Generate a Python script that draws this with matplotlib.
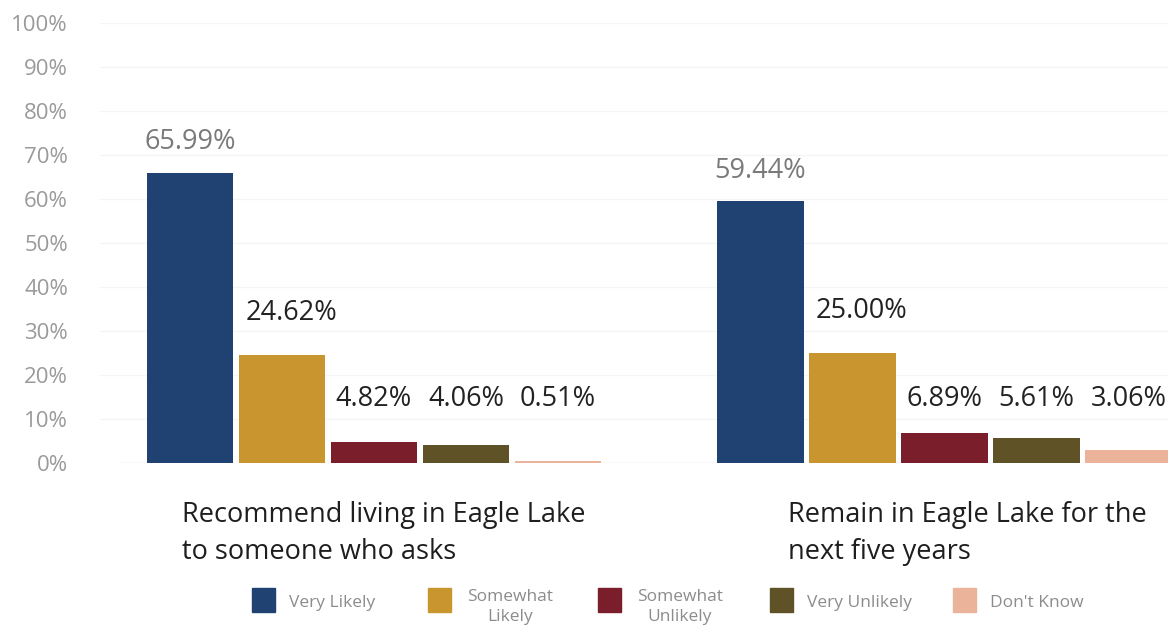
import matplotlib.pyplot as plt
from matplotlib.patches import Rectangle

plt.rcParams['font.family'] = ['Open Sans', 'DejaVu Sans']

# Survey responses (%)
responses = ["Very Likely", "Somewhat\nLikely", "Somewhat\nUnlikely", "Very Unlikely", "Don't Know"]
questions = ["Recommend living in Eagle Lake\nto someone who asks",
             "Remain in Eagle Lake for the\nnext five years"]
recommend = [65.99, 24.62, 4.82, 4.06, 0.51]
remain = [59.44, 25.00, 6.89, 5.61, 3.06]
colors = ["#1f4273", "#c8952f", "#7b1e2c", "#5f5226", "#eab39a"]
yticks = list(range(0, 101, 10))

W, H = 1168, 626
fig = plt.figure(figsize=(W / 100, H / 100), dpi=100)
# axes area: x from 100px to right edge, y from 0% at 463px to 100% at 23px
ax = fig.add_axes([100 / W, (H - 463) / H, 1 - 100 / W, 440 / H])

step_px = 92.0
x0_px = 190.0
ax.set_xlim((100 - x0_px) / step_px, (W - x0_px) / step_px)
ax.set_ylim(0, 100)

group_offsets = [0.0, 6.2]
series = [recommend, remain]
bar_w = 0.945
title_x = [-0.09, 6.5]

for g, (off, vals) in enumerate(zip(group_offsets, series)):
    xs = [off + i for i in range(len(vals))]
    ax.bar(xs, vals, width=bar_w, color=colors, zorder=3)
    for i, (x, v) in enumerate(zip(xs, vals)):
        if v > 50:
            y = v + 6.9
            col = "#7a7a7a"
        elif v < 10:
            y = 14.6
            col = "#222222"
        else:
            y = v + 9.5
            col = "#222222"
        dx = 0.1 if i == 1 else 0.0
        ax.text(x + dx, y, f"{v:.2f}%", ha="center", va="center",
                fontsize=19.5, color=col, clip_on=False, zorder=4)
    ax.text(title_x[g], -8.6, questions[g], ha="left", va="top",
            fontsize=19.5, color="#1e1e1e", linespacing=1.42, clip_on=False)

ax.set_yticks(yticks)
ax.set_yticklabels([f"{t}%" for t in yticks], fontsize=16, color="#9a9a9a")
ax.tick_params(axis="y", length=0, pad=23)
ax.set_xticks([])
for s in ax.spines.values():
    s.set_visible(False)
for t in yticks[1:]:
    ax.axhline(t, color="#f5f5f5", lw=1.0, zorder=1)
ax.axhline(0, xmin=(120 - 100) / (W - 100), color="#e2e2e2", lw=1.0, zorder=2)

# legend
leg_sq_x = [252, 428, 598, 770, 953]
for x, c, lab in zip(leg_sq_x, colors, responses):
    fig.patches.append(Rectangle((x / W, (H - 612) / H), 23 / W, 24 / H,
                                 transform=fig.transFigure, color=c))
    if "\n" in lab:
        fig.text((x + 82) / W, (H - 607) / H, lab, ha="center", va="center",
                 fontsize=12.5, color="#8c8c8c", linespacing=1.3)
    else:
        fig.text((x + 37) / W, (H - 603) / H, lab, ha="left", va="center",
                 fontsize=12.5, color="#8c8c8c")

fig.savefig("out.png", dpi=100, facecolor="white")
